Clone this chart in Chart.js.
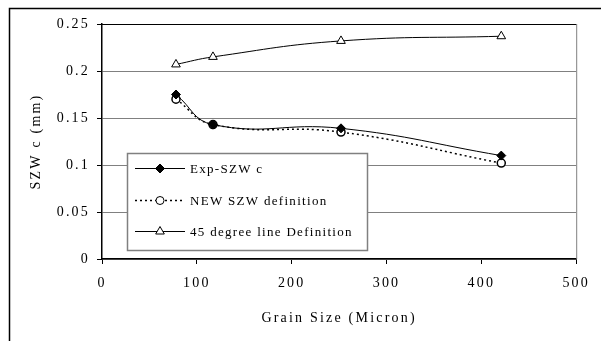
<!DOCTYPE html>
<html><head><meta charset="utf-8">
<script src="https://cdn.jsdelivr.net/npm/chart.js@4/dist/chart.umd.min.js"></script>
<style>html,body{margin:0;padding:0;background:#fff}#wrap{width:601px;height:341px}</style>
</head><body><div id="wrap"><canvas id="c" width="601" height="341"></canvas></div>
<script>
const grainSize = [78, 117, 252, 421];
const expSZWc = [0.175, 0.143, 0.139, 0.110];
const newSZW = [0.170, 0.143, 0.135, 0.102];
const deg45 = [0.207, 0.215, 0.232, 0.237];
const seriesLabels = ['Exp-SZW c', 'NEW SZW definition', '45 degree line Definition'];
const xTicks = [0, 100, 200, 300, 400, 500];
const yTicks = [0, 0.05, 0.1, 0.15, 0.2, 0.25];

const FONT = "'Liberation Serif', 'Times New Roman', serif";
const AXSP = '2.2px';
const pts = ys => grainSize.map((x, i) => ({x, y: ys[i]}));

const spacingPlugin = {
  id: 'spacing',
  beforeLayout(c) { c.ctx.letterSpacing = AXSP; },
  beforeDraw(c) {
    const ctx = c.ctx;
    ctx.letterSpacing = AXSP;
    ctx.save();
    ctx.fillStyle = '#fff';
    ctx.fillRect(0, 0, c.width, c.height);
    ctx.strokeStyle = '#000';
    ctx.lineWidth = 1.5;
    ctx.strokeRect(9.5, 8.5, 600, 345);
    ctx.restore();
  },
  beforeDatasetsDraw(c) {
    const ctx = c.ctx, a = c.chartArea;
    ctx.save();
    ctx.strokeStyle = '#808080';
    ctx.lineWidth = 1;
    ctx.beginPath();
    ctx.moveTo(a.right + 0.5, a.top); ctx.lineTo(a.right + 0.5, a.bottom);
    ctx.stroke();
    ctx.strokeStyle = '#000';
    ctx.beginPath();
    ctx.moveTo(a.left, a.top + 0.5); ctx.lineTo(a.right, a.top + 0.5);
    ctx.stroke();
    ctx.restore();
  },
  afterDatasetsDraw(c) {
    const ctx = c.ctx;
    ctx.save();
    ctx.letterSpacing = '1.3px';
    const bx = 127.5, by = 153.5, bw = 240, bh = 97;
    ctx.fillStyle = '#fff';
    ctx.fillRect(bx, by, bw, bh);
    ctx.strokeStyle = '#808080';
    ctx.lineWidth = 1.5;
    ctx.strokeRect(bx, by, bw, bh);
    const rows = [168, 200, 231];
    c.data.datasets.forEach((ds, i) => {
      const y = rows[i] + 0.5;
      ctx.strokeStyle = ds.borderColor;
      ctx.lineWidth = ds.borderWidth;
      ctx.setLineDash(ds.borderDash || []);
      ctx.beginPath(); ctx.moveTo(135, y); ctx.lineTo(185, y); ctx.stroke();
      ctx.setLineDash([]);
      ctx.fillStyle = ds.pointBackgroundColor;
      ctx.strokeStyle = ds.pointBorderColor;
      ctx.lineWidth = 1;
      Chart.helpers.drawPoint(ctx, {pointStyle: ds.pointStyle, radius: ds.pointRadius, borderWidth: 1}, 160, y);
      ctx.fillStyle = '#000';
      ctx.font = '13px ' + FONT;
      ctx.textBaseline = 'middle';
      ctx.textAlign = 'left';
      ctx.fillText(ds.label, 190, y + 1);
    });
    ctx.restore();
    ctx.letterSpacing = AXSP;
  }
};

new Chart(document.getElementById('c'), {
  type: 'line',
  data: {
    datasets: [
      {label: seriesLabels[0], data: pts(expSZWc), borderColor: '#000', borderWidth: 1,
       pointStyle: 'rectRot', pointRadius: 4.5, pointBackgroundColor: '#000', pointBorderColor: '#000',
       tension: 0.45, fill: false},
      {label: seriesLabels[1], data: pts(newSZW), borderColor: '#000', borderWidth: 1.5, borderDash: [2, 3],
       pointStyle: 'circle', pointRadius: 4, pointBackgroundColor: '#fff', pointBorderColor: '#000',
       tension: 0.45, fill: false},
      {label: seriesLabels[2], data: pts(deg45), borderColor: '#000', borderWidth: 1,
       pointStyle: 'triangle', pointRadius: 5, pointBackgroundColor: '#fff', pointBorderColor: '#000',
       tension: 0.45, fill: false}
    ]
  },
  options: {
    responsive: false, animation: false, devicePixelRatio: 1,
    layout: {padding: {left: 0, top: 24, right: 20, bottom: 0}},
    plugins: {legend: {display: false}, tooltip: {enabled: false}},
    scales: {
      x: {
        type: 'linear', min: 0, max: 500,
        afterBuildTicks: s => { s.ticks = xTicks.map(v => ({value: v})); },
        afterFit: s => { s.height = 82; },
        ticks: {color: '#000', font: {family: FONT, size: 14}, padding: 11, maxRotation: 0},
        grid: {drawOnChartArea: false, tickLength: 5, tickColor: '#000'},
        border: {color: '#000', width: 1.5},
        title: {display: true, text: 'Grain Size (Micron)', color: '#000',
                font: {family: FONT, size: 14}, padding: {top: 0, bottom: 14}}
      },
      y: {
        type: 'linear', min: 0, max: 0.25,
        afterBuildTicks: s => { s.ticks = yTicks.map(v => ({value: v})); },
        afterFit: s => { s.width = 102; },
        ticks: {color: '#000', font: {family: FONT, size: 14}, padding: 7,
                callback: v => String(Math.round(v * 100) / 100)},
        grid: {color: '#808080', tickLength: 5, tickColor: '#000', lineWidth: 1},
        border: {color: '#000', width: 1.5},
        title: {display: true, text: 'SZW c (mm)', color: '#000',
                font: {family: FONT, size: 14}, padding: {top: 28, bottom: 0}}
      }
    }
  },
  plugins: [spacingPlugin]
});
</script>
</body></html>
